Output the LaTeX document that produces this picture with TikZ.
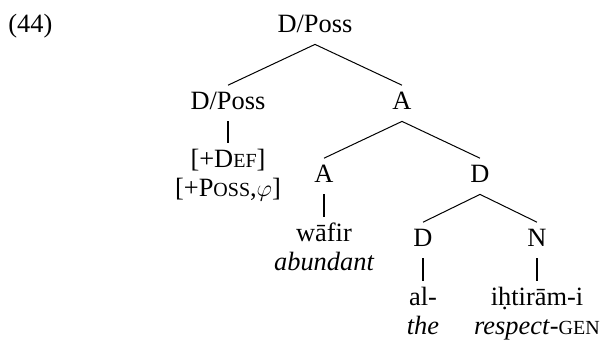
\documentclass[tikz,border=0pt]{standalone}
\usepackage{fontspec}
\setmainfont{Liberation Serif}
\usetikzlibrary{positioning}
\newcommand{\smcap}[1]{{\fontsize{10}{12}\selectfont #1}}

\begin{document}
\begin{tikzpicture}[x=0.5pt,y=-0.5pt,on grid,
	font=\fontsize{13.2}{14.5}\selectfont,
	lbl/.style={text height=8.7pt,text depth=2pt,inner sep=3.5pt},
	branch/.style={line width=0.5pt},
	stem/.style={line width=1pt}]
	\useasboundingbox (0,0) rectangle (604,340);
	\node[anchor=base west,inner sep=0pt](ex) at (8,33) {(44)};
	\node[lbl](root) at (315,26.3) {D/Poss};
	\node[lbl](dp)[below left=38.5pt and 43.5pt of root] {D/Poss};
	\node[lbl](a1)[below right=38.5pt and 43.5pt of root] {A};
	\node[lbl](def)[below=29pt of dp] {[+D\smcap{EF}]};
	\node[lbl](poss)[below=14.5pt of def] {[+P\smcap{OSS},$\varphi$]};
	\node[lbl](a2)[below left=36.5pt and 39pt of a1] {A};
	\node[lbl](d1)[below right=36.5pt and 39pt of a1] {D};
	\node[lbl](wafir)[below=29.5pt of a2] {wāfir};
	\node[lbl](abund)[below=14.5pt of wafir] {\itshape abundant};
	\node[lbl](d2)[below left=32pt and 28.5pt of d1] {D};
	\node[lbl](n)[below right=32pt and 28.5pt of d1] {N};
	\node[lbl](al)[below=29.5pt of d2] {al-};
	\node[lbl](the)[below=14.5pt of al] {\itshape the};
	\node[lbl](ihtiram)[below=29.5pt of n] {iḥtirām-i};
	\node[lbl](resp)[below=14.5pt of ihtiram] {\textit{respect}-\smcap{GEN}};
	\draw[branch]
	(root.south) edge (dp.north)
	(root.south) edge (a1.north)
	(a1.south) edge (a2.north)
	(a1.south) edge (d1.north)
	(d1.south) edge (d2.north)
	(d1.south) edge (n.north);
	\draw[stem]
	(dp.south) edge (def.north)
	(a2.south) edge (wafir.north)
	(d2.south) edge (al.north)
	(n.south) edge (ihtiram.north);
\end{tikzpicture}
\end{document}
